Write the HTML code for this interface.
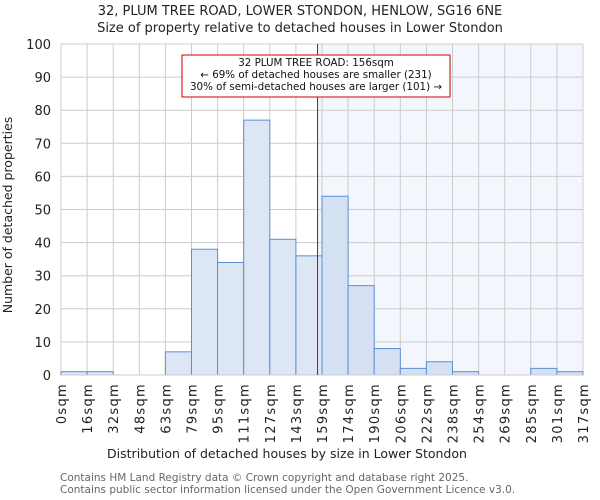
<!DOCTYPE html>
<html><head><meta charset="utf-8"><style>
body{margin:0;background:#fff}
svg{display:block;font-family:"DejaVu Sans","Liberation Sans",sans-serif}
</style></head><body>
<svg id="c" width="600" height="500" viewBox="0 0 600 500">
<text x="300" y="15" text-anchor="middle" font-size="13" fill="#222">32, PLUM TREE ROAD, LOWER STONDON, HENLOW, SG16 6NE</text>
<text x="300" y="32" text-anchor="middle" font-size="13" fill="#222">Size of property relative to detached houses in Lower Stondon</text>
<g id="plot"></g>
<text x="287" y="458" text-anchor="middle" font-size="12.5" fill="#222">Distribution of detached houses by size in Lower Stondon</text>
<text transform="translate(12,215) rotate(-90)" text-anchor="middle" font-size="12.5" fill="#222">Number of detached properties</text>
<text x="60" y="481" font-size="10.5" fill="#666">Contains HM Land Registry data © Crown copyright and database right 2025.</text>
<text x="60" y="493" font-size="10.5" fill="#666">Contains public sector information licensed under the Open Government Licence v3.0.</text>
</svg>
<script>
const binLabels=["0sqm","16sqm","32sqm","48sqm","63sqm","79sqm","95sqm","111sqm","127sqm","143sqm","159sqm","174sqm","190sqm","206sqm","222sqm","238sqm","254sqm","269sqm","285sqm","301sqm","317sqm"];
const counts=[1,1,0,0,7,38,34,77,41,36,54,27,8,2,4,1,0,0,2,1];
const yTicks=[0,10,20,30,40,50,60,70,80,90,100];
const markerBin=9.83;
const NS="http://www.w3.org/2000/svg";
const g=document.getElementById('plot');
const L=61,R=583,T=44,B=375,yMax=100;
const nb=counts.length,bw=(R-L)/nb;
const xs=i=>L+i*bw, ys=v=>B-(v/yMax)*(B-T);
function mk(t,a){const e=document.createElementNS(NS,t);for(const k in a)e.setAttribute(k,a[k]);g.appendChild(e);return e;}
const mx=xs(markerBin);
let e=mk('rect',{x:mx,y:T,width:R-mx,height:B-T,fill:'#f4f6fd'});


yTicks.forEach(v=>{
 let l=mk('line',{x1:L,x2:R,y1:ys(v),y2:ys(v),stroke:'#ccc','stroke-width':1});
 
 
 let t=mk('text',{x:L-10,y:ys(v)+5,'text-anchor':'end','font-size':13,fill:'#222'});
 t.textContent=v;
 
 
});
binLabels.forEach((s,i)=>{
 let l=mk('line',{x1:xs(i),x2:xs(i),y1:T,y2:B,stroke:'#ccc','stroke-width':1});
 
 
 let t=mk('text',{transform:`translate(${xs(i)+5},${B+8}) rotate(-90)`,'text-anchor':'end','font-size':13,'letter-spacing':'1.3',fill:'#222'});
 t.textContent=s;
 
 
});
counts.forEach((v,i)=>{
 if(v<=0)return;
 let r=mk('rect',{x:xs(i),y:ys(v),width:bw,height:B-ys(v),fill:i>=10?'#d6e0f3':'#dce6f4',stroke:'#5b8fd6','stroke-width':1});
 
 
});
let ax=mk('line',{x1:L,x2:R,y1:B,y2:B,stroke:'#ccc'});


let ml=mk('line',{x1:mx,x2:mx,y1:T,y2:B,stroke:'#cc0000','stroke-width':1});


let box=mk('rect',{x:182,y:55,width:268,height:42,fill:'#fff',stroke:'#cc0000','stroke-width':1});


["32 PLUM TREE ROAD: 156sqm","← 69% of detached houses are smaller (231)","30% of semi-detached houses are larger (101) →"].forEach((s,i)=>{
 let t=mk('text',{x:316,y:66+i*12,'text-anchor':'middle','font-size':10.3,fill:'#111'});
 t.textContent=s;
 
 
});
</script>
</body></html>
